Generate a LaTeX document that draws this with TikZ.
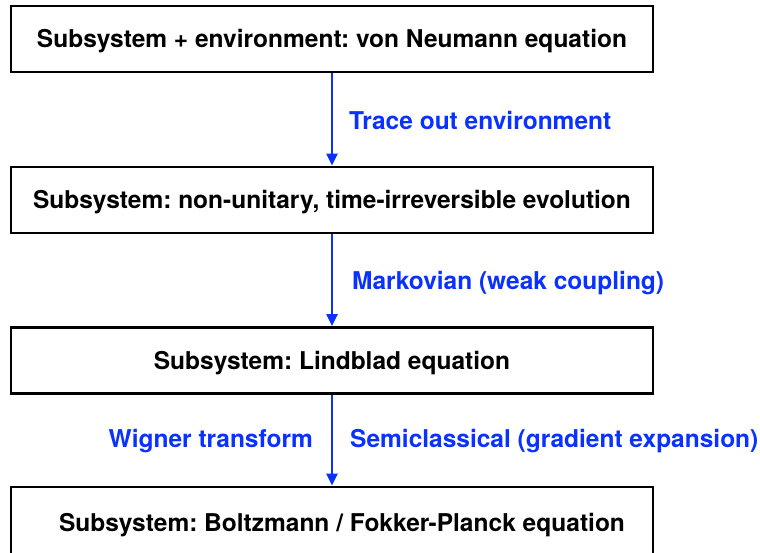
\documentclass[tikz,border=0pt]{standalone}
\usepackage{fontspec}
\setmainfont{TeX Gyre Heros}
\usetikzlibrary{arrows.meta}
\definecolor{lblblue}{RGB}{10,50,255}
\frenchspacing
\tikzset{
  stagebox/.style={draw=black, line width=2.8pt, fill=white, minimum width=642pt, minimum height=66pt,
    inner sep=0pt, font=\fontsize{24.5}{28}\selectfont\bfseries, text height=18pt, text depth=0pt},
  flow/.style={draw=lblblue, line width=2.2pt, -{Triangle[length=12pt,width=11pt]}},
  steplabel/.style={text=lblblue, font=\fontsize{24.5}{28}\selectfont\bfseries, inner sep=0pt}
}
\begin{document}
\begin{tikzpicture}[x=1pt,y=-1pt]
\useasboundingbox[fill=white] (0,0) rectangle (760,553);
\clip (0,0) rectangle (760,553);
\node[stagebox] (b1) at (332,39) {Subsystem + environment: von Neumann equation};
\node[stagebox] (b2) at (332,200) {Subsystem: non-unitary, time-irreversible evolution};
\node[stagebox] (b3) at (332,360.5) {Subsystem: Lindblad equation};
\node[stagebox, minimum height=70pt] (b4) at (332,522) {\hspace*{20pt}Subsystem: Boltzmann / Fokker-Planck equation};
\draw[flow] (b1.south) -- (b2.north);
\draw[flow] (b2.south) -- (b3.north);
\draw[flow] (b3.south) -- (b4.north);
\node[steplabel, anchor=base west] (l1) at (349,130) {Trace out environment};
\node[steplabel, anchor=base west] (l2) at (352,290) {Markovian (weak coupling)};
\node[steplabel, anchor=base east] (l3) at (313,447) {Wigner transform};
\node[steplabel, anchor=base west] (l4) at (350,447.5) {Semiclassical (gradient expansion)};
\end{tikzpicture}
\end{document}
